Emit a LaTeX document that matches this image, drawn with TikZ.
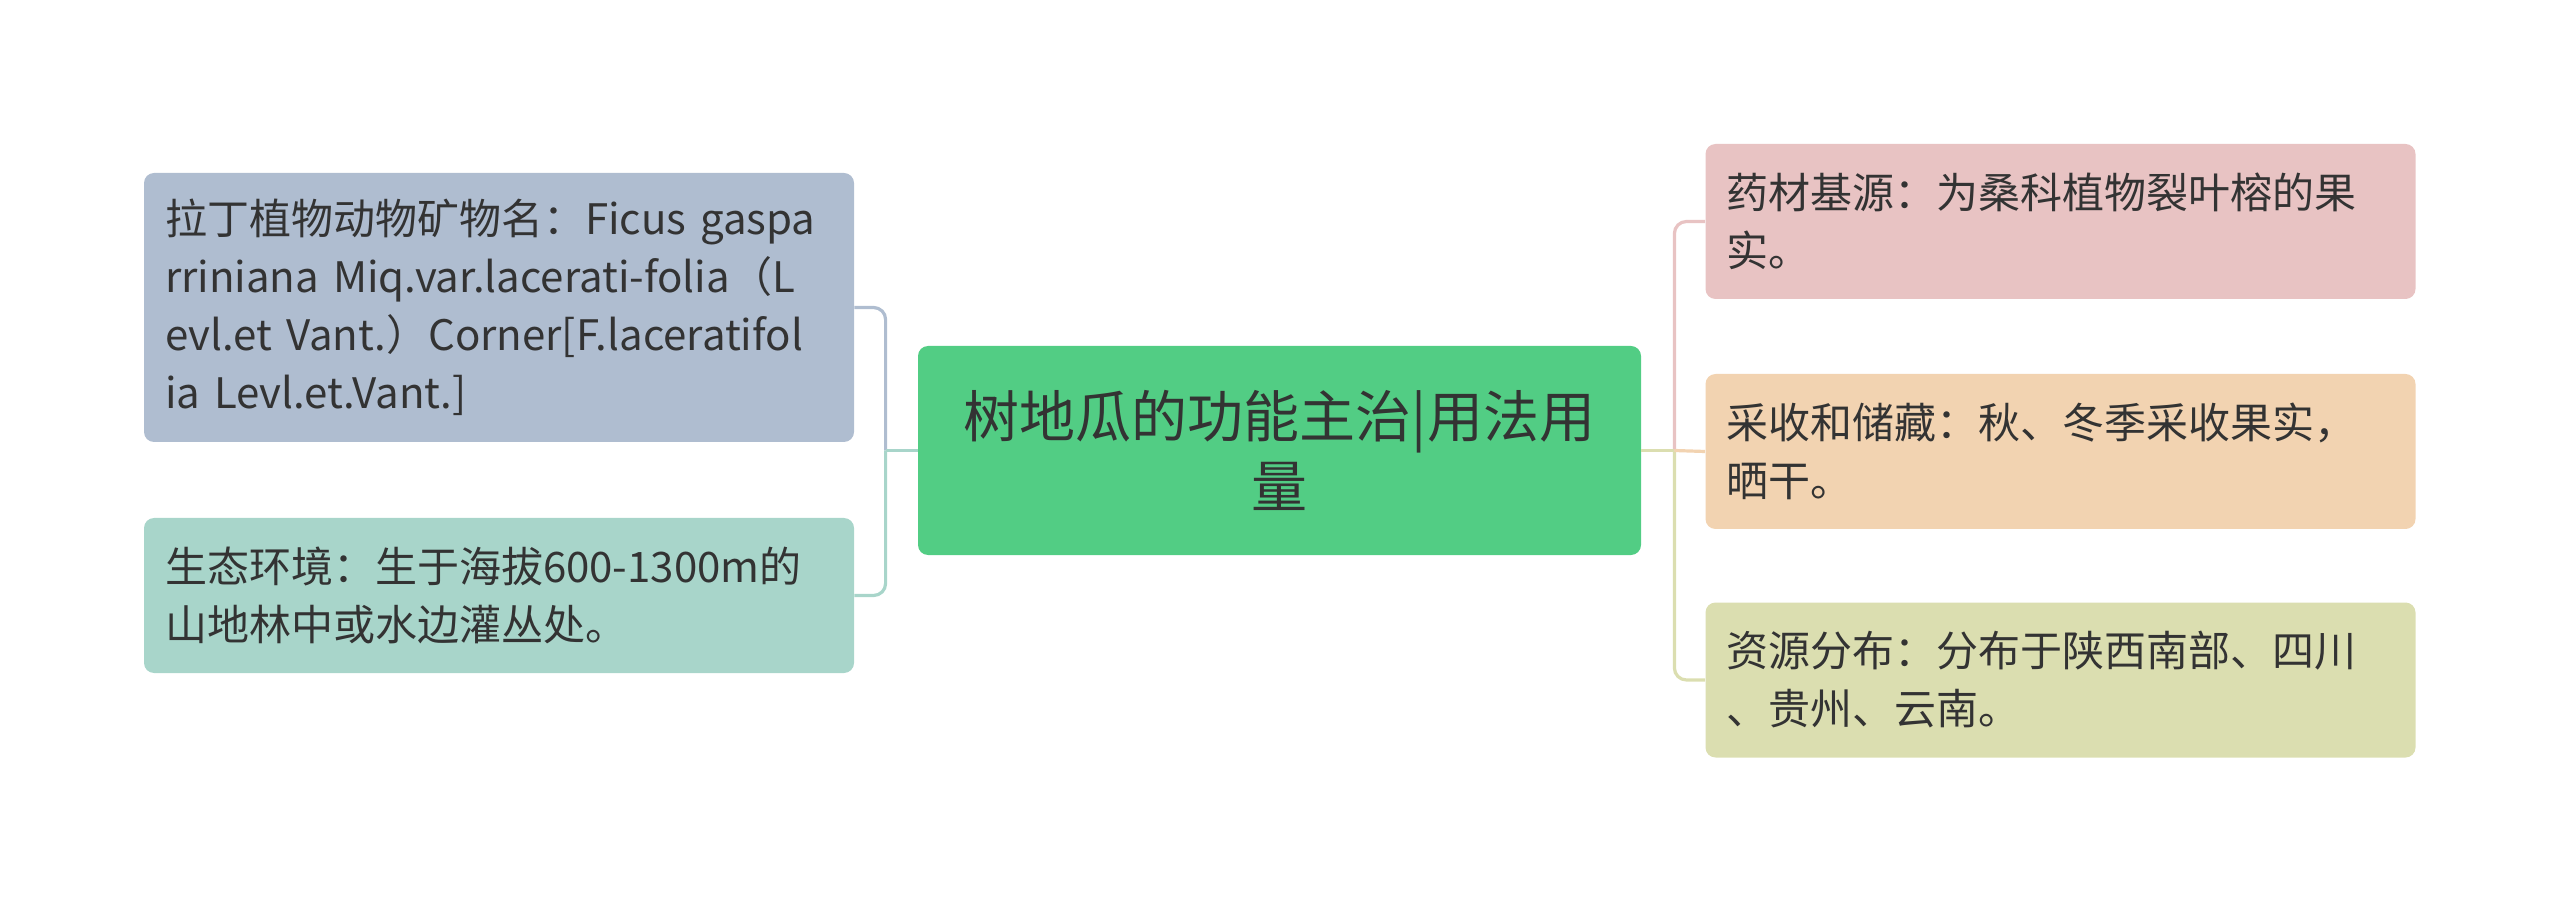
\documentclass[tikz,border=0pt]{standalone}
\usepackage{fontspec}
\setmainfont{Noto Sans CJK SC}
\usetikzlibrary{calc}
\definecolor{txtgray}{HTML}{333333}
\definecolor{topicgreen}{HTML}{52CD84}
\definecolor{latinblue}{HTML}{AFBDD0}
\definecolor{habitteal}{HTML}{A8D5CA}
\definecolor{sourcepink}{HTML}{E8C3C3}
\definecolor{harvestpeach}{HTML}{F2D3B1}
\definecolor{rangekhaki}{HTML}{DBDEB0}
\tikzset{
  leaf/.style={rounded corners=5pt, text width=334pt, inner xsep=10.5pt, inner ysep=0pt,
    align=left, text=txtgray, font=\fontsize{21}{29}\selectfont, minimum height=77.5pt},
  topic/.style={rounded corners=5pt, text width=340pt, inner xsep=10.75pt, inner ysep=0pt,
    align=center, text=txtgray, font=\fontsize{28}{35}\selectfont, minimum height=104.5pt,
    fill=topicgreen},
  link/.style={line width=1.6pt, rounded corners=6pt}
}

\begin{document}
\begin{tikzpicture}[x=0.5pt,y=-0.5pt]
		%%%%% START %%%%%
		\useasboundingbox (0,0) rectangle (2560,903);
		
		\node[topic] (topic) at (1279.5,450.5) {树地瓜的功能主治|用法用\\量};
		
		\node[leaf, fill=latinblue, minimum height=134.5pt] (latin) at (499,307.5)
			{拉丁植物动物矿物名：Ficus gaspa\\rriniana Miq.var.lacerati-folia（L\\evl.et Vant.）Corner[F.laceratifol\\ia Levl.et.Vant.]};
		\node[leaf, fill=habitteal] (habit) at (499,595.5)
			{生态环境：生于海拔600-1300m的\\山地林中或水边灌丛处。};
		
		\node[leaf, fill=sourcepink] (source) at (2060.5,221.5)
			{药材基源：为桑科植物裂叶榕的果\\实。};
		\node[leaf, fill=harvestpeach] (harvest) at (2060.5,451.5)
			{采收和储藏：秋、冬季采收果实，\\晒干。};
		\node[leaf, fill=rangekhaki] (range) at (2060.5,680)
			{资源分布：分布于陕西南部、四川\\、贵州、云南。};
		
		% left side
		\coordinate (lj) at ($(topic.west)+(-32,0)$);
		\draw[link, draw=latinblue] (lj) |- (latin.east);
		\draw[link, draw=habitteal] (lj) |- (habit.east);
		\draw[link, draw=habitteal] (topic.west) -- (lj);
		
		% right side
		\coordinate (rj) at ($(topic.east)+(33,0)$);
		\draw[link, draw=sourcepink] (rj) |- (source.west);
		\draw[link, draw=rangekhaki] (rj) |- (range.west);
		\draw[link, draw=harvestpeach] (rj) -- (harvest.west);
		\draw[link, draw=rangekhaki] (topic.east) -- (rj);
		%%%%% END %%%%%
	\end{tikzpicture}
\end{document}
